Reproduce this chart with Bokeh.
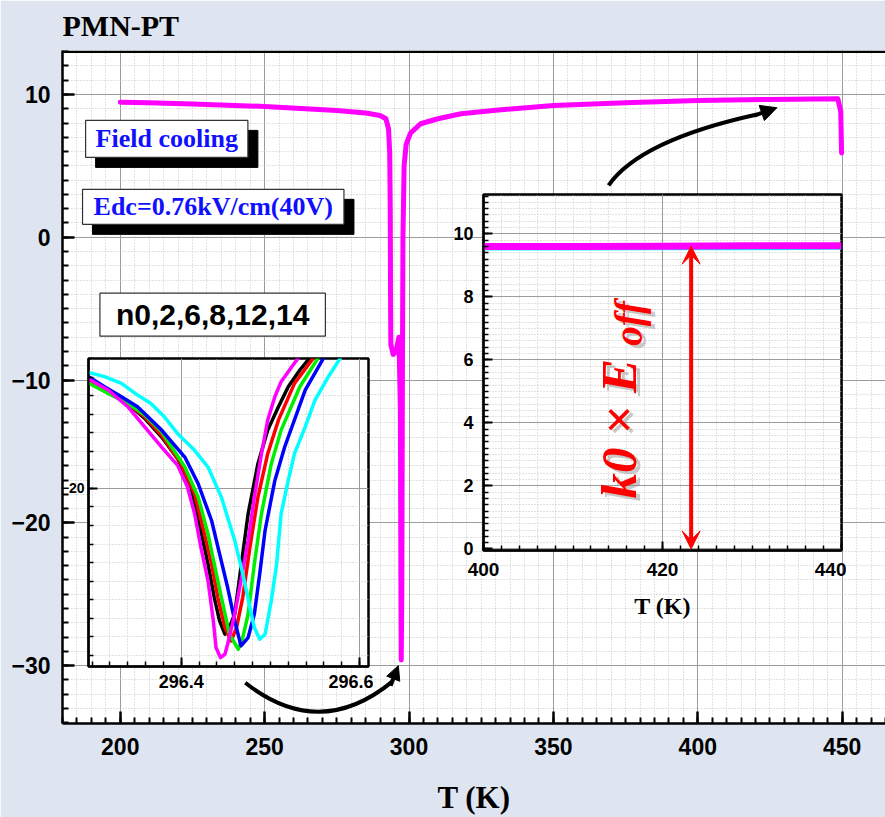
import numpy as np
from bokeh.plotting import figure
from bokeh.models import (Range1d, SingleIntervalTicker, Label, Arrow, NormalHead,
                          VeeHead, Span, PrintfTickFormatter)
from bokeh.layouts import column
from bokeh.embed import file_html
from bokeh.resources import INLINE

# ---------------- data ----------------
# main curve (T in K)
T_main = [200, 210, 225, 250, 275, 285, 290, 292.0, 292.9, 293.3, 293.5, 293.6, 293.7,
          294.5, 295.5, 296.5, 297.0, 297.2, 297.3, 297.5, 297.7, 297.9, 298.3, 299.0,
          300.5, 304, 310, 318, 330, 350, 375, 400, 425, 448.5, 449.5, 449.8]
P_main = [9.46, 9.42, 9.33, 9.16, 8.88, 8.7, 8.53, 8.3, 7.6, 6.0, 2.0, -4.0, -7.5,
          -8.2, -8.0, -7.0, -12.0, -25.0, -29.6, -25.0, -10.0, 0.0, 5.0, 6.5,
          7.3, 7.95, 8.3, 8.65, 8.9, 9.23, 9.42, 9.58, 9.65, 9.7, 8.8, 5.9]

# inset 1 (zoom of the dip), series n0..n14
T_black = [296.293, 296.318, 296.340, 296.359, 296.378, 296.396, 296.411, 296.422, 296.430, 296.437,
           296.443, 296.449, 296.454, 296.460, 296.467, 296.475, 296.486, 296.497, 296.509, 296.520,
           296.533, 296.546]
P_black = [-13.98, -14.70, -15.42, -16.23, -17.23, -18.40, -19.93, -22.27, -24.07, -25.87,
           -27.14, -27.86, -27.50, -26.77, -24.25, -21.37, -18.67, -16.86, -15.60, -14.52,
           -13.62, -12.86]
T_red = [296.293, 296.318, 296.340, 296.359, 296.378, 296.400, 296.415, 296.426, 296.434, 296.441,
         296.449, 296.456, 296.462, 296.469, 296.477, 296.486, 296.497, 296.509, 296.527, 296.550]
P_red = [-14.07, -14.79, -15.42, -16.14, -17.14, -18.67, -20.29, -22.45, -24.07, -25.87,
         -27.50, -28.22, -27.50, -25.87, -23.17, -20.47, -18.13, -16.32, -14.34, -12.86]
T_green = [296.293, 296.318, 296.340, 296.359, 296.378, 296.404, 296.419, 296.430, 296.437, 296.445,
           296.454, 296.464, 296.469, 296.475, 296.482, 296.490, 296.501, 296.512, 296.533, 296.555]
P_green = [-14.25, -14.88, -15.42, -16.05, -16.95, -18.85, -20.47, -22.45, -24.07, -25.87,
           -27.86, -28.67, -28.04, -26.77, -24.07, -21.37, -18.67, -16.86, -14.52, -12.86]
T_blue = [296.293, 296.314, 296.333, 296.351, 296.378, 296.404, 296.419, 296.434, 296.443, 296.452,
          296.460, 296.467, 296.475, 296.482, 296.488, 296.494, 296.505, 296.516, 296.539, 296.561]
P_blue = [-13.89, -14.52, -15.06, -15.60, -16.86, -18.31, -19.75, -21.73, -23.53, -25.33,
          -27.14, -28.49, -28.04, -26.77, -24.61, -22.27, -19.57, -17.77, -14.70, -12.86]
T_magenta = [296.293, 296.318, 296.340, 296.359, 296.378, 296.396, 296.407, 296.415, 296.422, 296.430,
             296.436, 296.439, 296.444, 296.449, 296.452, 296.460, 296.467, 296.475, 296.482, 296.490,
             296.497, 296.505, 296.512, 296.524, 296.533]
P_magenta = [-14.02, -14.70, -15.60, -16.68, -17.77, -18.76, -19.93, -21.37, -23.17, -24.97,
             -27.14, -28.58, -29.12, -28.94, -28.40, -26.77, -24.97, -22.81, -20.47, -18.13,
             -16.32, -15.06, -14.25, -13.44, -12.86]
T_cyan = [296.293, 296.314, 296.333, 296.351, 296.366, 296.381, 296.396, 296.415, 296.430, 296.445,
          296.460, 296.469, 296.477, 296.482, 296.488, 296.494, 296.501, 296.507, 296.512, 296.520,
          296.527, 296.539, 296.550, 296.565, 296.580]
P_cyan = [-13.71, -13.98, -14.34, -14.97, -15.42, -16.14, -17.05, -17.95, -18.85, -20.47,
          -22.81, -24.61, -26.41, -27.50, -28.13, -27.86, -26.05, -24.07, -21.37, -19.57,
          -18.13, -16.68, -15.24, -13.98, -12.86]

# inset 2 (high temperature plateau)
T_hi = [400, 410, 420, 430, 440]
P_hi_magenta = [9.60, 9.60, 9.61, 9.62, 9.62]
P_hi_cyan = [9.52, 9.52, 9.53, 9.53, 9.54]

SANS = "Liberation Sans"
SERIF = "Liberation Serif"


def style_axis(ax, size, t_major, t_minor, w, standoff):
    ax.major_tick_in = t_major
    ax.major_tick_out = 0
    ax.minor_tick_in = t_minor
    ax.minor_tick_out = 0
    ax.axis_line_width = w
    ax.major_tick_line_width = w
    ax.minor_tick_line_width = max(1, w - 0.5)
    ax.axis_line_color = "black"
    ax.major_tick_line_color = "black"
    ax.minor_tick_line_color = "black"
    ax.major_label_text_font = SANS
    ax.major_label_text_font_style = "bold"
    ax.major_label_text_font_size = size
    ax.major_label_text_color = "black"
    ax.major_label_standoff = standoff
    ax.axis_label_text_color = "black"


def style_grid(fig):
    for g in (fig.xgrid, fig.ygrid):
        g.grid_line_color = "#9c9c9c"
        g.grid_line_width = 1
        g.minor_grid_line_color = "#c4c4c4"
        g.minor_grid_line_dash = "1 2"
        g.minor_grid_line_width = 1


# ---------------- main figure ----------------
p = figure(width=885, height=817, x_range=Range1d(180, 465), y_range=Range1d(-34.05, 13.08),
           output_backend="svg", toolbar_location=None, frame_align=False, title="PMN-PT",
           min_border_left=62, min_border_right=0, min_border_top=50, min_border_bottom=93,
           background_fill_color="white", border_fill_color="#dfe5f0", outline_line_color=None)
p.title.text_font = SERIF
p.title.text_font_style = "bold"
p.title.text_font_size = "30px"
p.title.text_color = "black"
p.title.align = "left"
p.title.vertical_align = "top"
p.title.standoff = 13
p.xaxis.ticker = SingleIntervalTicker(interval=50, num_minor_ticks=10)
p.yaxis.ticker = SingleIntervalTicker(interval=10, num_minor_ticks=10)
style_axis(p.xaxis[0], "23px", 12, 6, 2.5, 14)
style_axis(p.yaxis[0], "23px", 12, 6, 2.5, 12)
p.xaxis.axis_label = "T (K)"
p.xaxis.axis_label_text_font = SERIF
p.xaxis.axis_label_text_font_style = "bold"
p.xaxis.axis_label_text_font_size = "31px"
p.xaxis.axis_label_standoff = 22
style_grid(p)
p.add_layout(Span(location=13.0, dimension="width", line_color="black", line_width=2.5))

p.line(T_main, P_main, line_color="#ff00ff", line_width=5, line_join="round", line_cap="round")

# text boxes with drop shadows
def boxed(fig, x, y, text, color, font, size, pad, shadow):
    if shadow:
        fig.add_layout(Label(x=x, y=y, text=text, x_offset=10, y_offset=-10, text_align="center",
                             text_baseline="middle", text_font=font, text_font_style="bold",
                             text_font_size=size, text_color="black", background_fill_color="black",
                             border_line_color="black", padding=pad))
    fig.add_layout(Label(x=x, y=y, text=text, text_align="center", text_baseline="middle",
                         text_font=font, text_font_style="bold", text_font_size=size,
                         text_color=color, background_fill_color="white",
                         border_line_color="#333333", border_line_width=1.2, padding=pad))

boxed(p, 216.1, 6.89, "Field cooling", "#1010ff", SERIF, "26px", dict(left=10, right=10, top=4, bottom=4), True)
boxed(p, 232.2, 2.13, "Edc=0.76kV/cm(40V)", "#1010ff", SERIF, "26px", dict(left=11, right=11, top=3, bottom=3), True)
boxed(p, 232.0, -5.42, "n0,2,6,8,12,14", "black", SANS, "30px", dict(left=16, right=16, top=5, bottom=5), False)

# curved arrows
p.quadratic(x0=243.3, y0=-31.2, x1=294.3, y1=-31.1, cx=269, cy=-35.3, line_color="black", line_width=4)
p.add_layout(Arrow(x_start=293.6, y_start=-31.4, x_end=296.3, y_end=-30.0, line_width=4,
                   end=NormalHead(size=14, fill_color="black", line_color="black")))
p.quadratic(x0=369.1, y0=3.64, x1=420.5, y1=8.6, cx=380, cy=6.8, line_color="black", line_width=4)
p.add_layout(Arrow(x_start=419.5, y_start=8.52, x_end=427.4, y_end=9.07, line_width=4,
                   end=NormalHead(size=16, fill_color="black", line_color="black")))

# ---------------- inset 1 ----------------
i1 = figure(frame_width=280, frame_height=308, x_range=Range1d(296.296, 296.61), y_range=Range1d(-29.6, -13.0),
            output_backend="svg", toolbar_location=None, frame_align=False,
            min_border_left=30, min_border_right=5, min_border_top=5, min_border_bottom=35,
            background_fill_color="white", border_fill_color=None,
            outline_line_color="black", outline_line_width=2.5,
            styles={"position": "absolute", "left": "57px", "top": "353px"})
i1.xaxis.ticker = SingleIntervalTicker(interval=0.2, num_minor_ticks=10)
i1.yaxis.ticker = SingleIntervalTicker(interval=10, num_minor_ticks=10)
i1.xaxis.formatter = PrintfTickFormatter(format="%.1f")
style_axis(i1.xaxis[0], "18px", 9, 5, 2, 8)
style_axis(i1.yaxis[0], "14px", 9, 5, 2, 4)
style_grid(i1)
for T, P, c in ((T_black, P_black, "black"), (T_red, P_red, "red"), (T_green, P_green, "#00ee00"),
                (T_blue, P_blue, "blue"), (T_magenta, P_magenta, "#ff00ff"), (T_cyan, P_cyan, "cyan")):
    i1.line(T, P, line_color=c, line_width=3.5, line_join="round")

# ---------------- inset 2 ----------------
i2 = figure(frame_width=358, frame_height=356, x_range=Range1d(400, 440), y_range=Range1d(-0.05, 11.25),
            output_backend="svg", toolbar_location=None, frame_align=False,
            min_border_left=40, min_border_right=5, min_border_top=5, min_border_bottom=80,
            background_fill_color="white", border_fill_color=None,
            outline_line_color="black", outline_line_width=2.5,
            styles={"position": "absolute", "left": "443px", "top": "189px"})
i2.xaxis.ticker = SingleIntervalTicker(interval=20, num_minor_ticks=10)
i2.yaxis.ticker = SingleIntervalTicker(interval=2, num_minor_ticks=10)
style_axis(i2.xaxis[0], "19px", 9, 5, 2, 12)
style_axis(i2.yaxis[0], "18px", 9, 5, 2, 10)
i2.xaxis.axis_label = "T (K)"
i2.xaxis.axis_label_text_font = SERIF
i2.xaxis.axis_label_text_font_style = "bold"
i2.xaxis.axis_label_text_font_size = "24px"
i2.xaxis.axis_label_standoff = 14
style_grid(i2)
i2.line(T_hi, P_hi_cyan, line_color="cyan", line_width=3)
i2.line(T_hi, P_hi_magenta, line_color="#ff00ff", line_width=7)
i2.add_layout(Arrow(x_start=423.2, y_start=0.0, x_end=423.2, y_end=P_hi_magenta[2],
                    line_color="red", line_width=4,
                    start=VeeHead(size=18, fill_color="red", line_color="red"),
                    end=VeeHead(size=18, fill_color="red", line_color="red")))
for dx, dy, col, alpha in ((4, -3, "#888888", 0.45), (0, 0, "red", 1.0)):
    i2.add_layout(Label(x=415.1, y=1.6, x_offset=dx, y_offset=dy, text="k0 \u00d7 E", angle=np.pi / 2,
                        text_font=SERIF, text_font_style="bold italic", text_font_size="51px",
                        text_color=col, text_alpha=alpha, text_baseline="alphabetic"))
    i2.add_layout(Label(x=416.2, y=6.45, x_offset=dx, y_offset=dy, text="off", angle=np.pi / 2,
                        text_font=SERIF, text_font_style="bold italic", text_font_size="39px",
                        text_color=col, text_alpha=alpha, text_baseline="alphabetic"))

root = column(p, i1, i2, styles={"position": "relative", "width": "885px", "height": "817px"})
open("out.html", "w").write(file_html(root, INLINE))
